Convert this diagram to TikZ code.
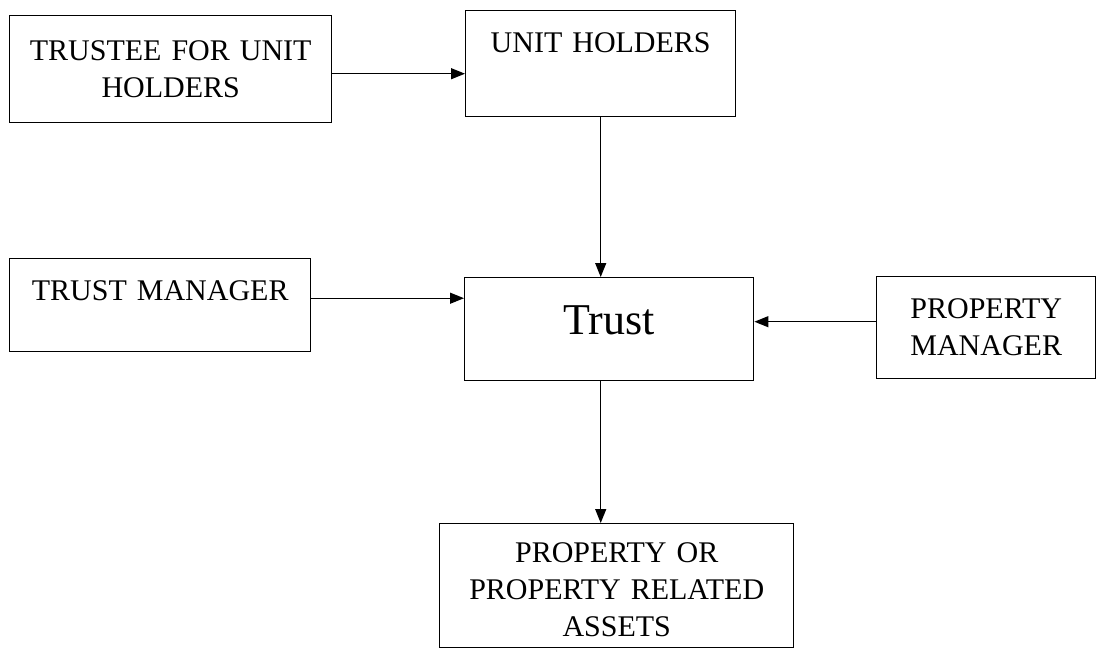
\documentclass[tikz,border=0pt]{standalone}
\usepackage{fontspec}
\setmainfont{Liberation Serif}
\usepackage{tikz}
\usetikzlibrary{positioning,arrows.meta,calc}

\begin{document}
\begin{tikzpicture}[
  x=0.5pt, y=-0.5pt,
  box/.style={draw, line width=0.7pt, inner sep=0pt, anchor=north west,
              align=center, font=\fontsize{15}{18.5}\selectfont},
  arr/.style={-{Triangle[length=7pt,width=5.5pt]}, line width=0.6pt}
]
  \useasboundingbox (0,0) rectangle (1101,650);
  % top row
  \node[box, text width=161pt, text height=22.5pt, text depth=31pt] (tfu) at (9,15)
       {TRUSTEE FOR UNIT\\HOLDERS};
  \node[box, text width=135pt, text height=21pt, text depth=32pt]   (uh)  at (465,10)
       {UNIT HOLDERS};
  % middle row
  \node[box, text width=150.5pt, text height=21pt, text depth=25.5pt] (tm) at (9,258)
       {TRUST MANAGER};
  \node[box, text width=144.5pt, text height=28.5pt, text depth=23pt,
        font=\fontsize{22}{26}\selectfont] (trust) at (464,277) {Trust};
  \node[box, text width=109.5pt, text height=21pt, text depth=30pt] (pm) at (876,276)
       {PROPERTY\\MANAGER};
  % bottom
  \node[box, text width=177pt, text height=19.5pt, text depth=42.5pt] (assets) at (439,523)
       {PROPERTY OR\\PROPERTY RELATED\\ASSETS};
  \draw[arr] ([yshift=-2.25pt]tfu.east) -- ([yshift=-2.25pt]tfu.east -| uh.west);
  \draw[arr] (uh.south) -- (uh.south |- trust.north);
  \draw[arr] ([yshift=3.5pt]tm.east) -- ([yshift=3.5pt]tm.east -| trust.west);
  \draw[arr] ([yshift=3pt]pm.west) -- ([yshift=3pt]pm.west -| trust.east);
  \draw[arr] (uh.south |- trust.south) -- (uh.south |- assets.north);
\end{tikzpicture}
\end{document}
